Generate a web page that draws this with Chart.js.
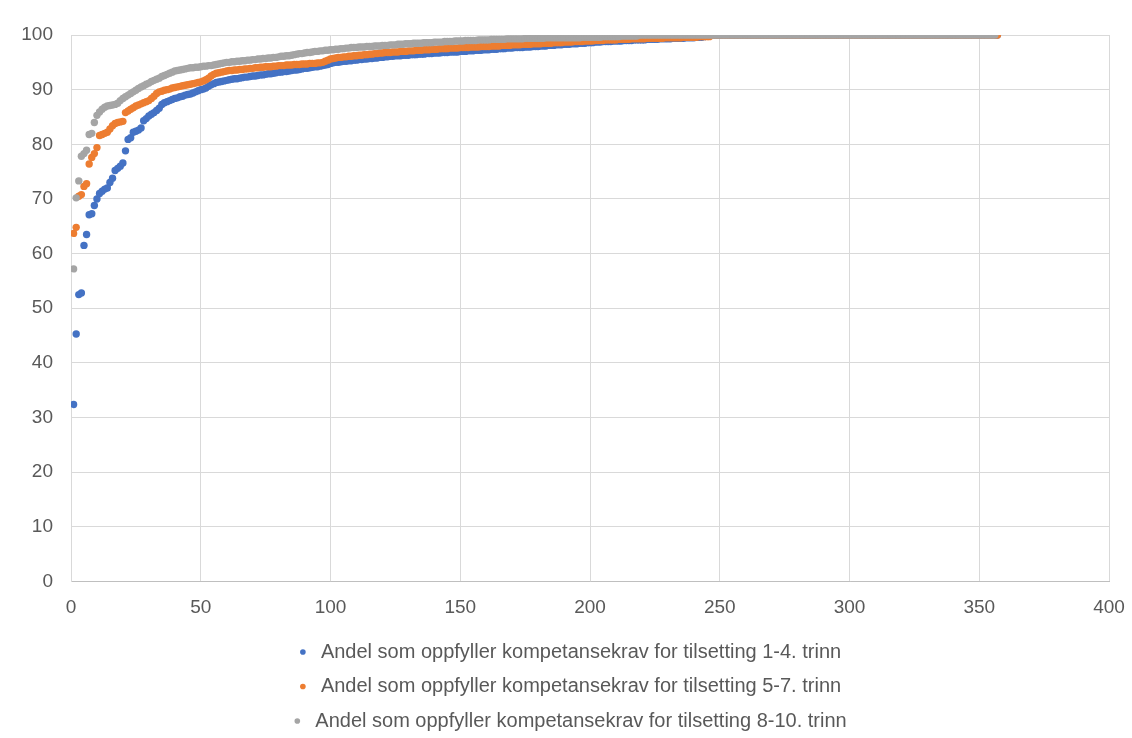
<!DOCTYPE html>
<html>
<head>
<meta charset="utf-8">
<script src="https://cdn.jsdelivr.net/npm/chart.js@4.4.0/dist/chart.umd.min.js"></script>
<style>
  html, body { margin: 0; padding: 0; background: #fff; }
  #wrap { width: 1132px; height: 738px; }
</style>
</head>
<body>
<div id="wrap"><canvas id="myChart" width="1132" height="738"></canvas></div>
<script>
// Andel (%) per skole, sortert stigende – x er rangnummer 1..n
const trinn14 = [
  32.4, 45.3, 52.5, 52.8, 61.5, 63.5, 67.1, 67.3, 68.8, 70.0,
  71.0, 71.4, 71.8, 72.0, 73.0, 73.8, 75.2, 75.6, 76.0, 76.6,
  78.8, 80.9, 81.2, 82.2, 82.4, 82.6, 83.0, 84.3, 84.7, 85.2,
  85.5, 85.8, 86.2, 86.6, 87.3, 87.6, 87.8, 88.0, 88.2, 88.4,
  88.5, 88.7, 88.8, 89.0, 89.1, 89.2, 89.4, 89.6, 89.8, 90.0,
  90.1, 90.3, 90.6, 90.9, 91.1, 91.3, 91.4, 91.5, 91.6, 91.7,
  91.8, 91.9, 92.0, 92.0, 92.1, 92.2, 92.3, 92.3, 92.4, 92.5,
  92.5, 92.6, 92.7, 92.7, 92.8, 92.9, 92.9, 93.0, 93.1, 93.2,
  93.2, 93.3, 93.3, 93.4, 93.5, 93.6, 93.6, 93.7, 93.8, 93.9,
  93.9, 94.0, 94.1, 94.2, 94.2, 94.3, 94.4, 94.5, 94.6, 94.8,
  94.9, 95.0, 95.0, 95.1, 95.2, 95.2, 95.3, 95.3, 95.4, 95.4,
  95.5, 95.5, 95.6, 95.6, 95.7, 95.7, 95.8, 95.8, 95.9, 95.9,
  96.0, 96.0, 96.1, 96.1, 96.2, 96.2, 96.2, 96.3, 96.3, 96.3,
  96.4, 96.4, 96.4, 96.5, 96.5, 96.5, 96.6, 96.6, 96.6, 96.7,
  96.7, 96.7, 96.8, 96.8, 96.8, 96.9, 96.9, 96.9, 96.9, 97.0,
  97.0, 97.0, 97.1, 97.1, 97.1, 97.2, 97.2, 97.2, 97.3, 97.3,
  97.3, 97.4, 97.4, 97.4, 97.5, 97.5, 97.5, 97.6, 97.6, 97.6,
  97.7, 97.7, 97.7, 97.7, 97.8, 97.8, 97.8, 97.9, 97.9, 97.9,
  98.0, 98.0, 98.0, 98.1, 98.1, 98.1, 98.2, 98.2, 98.2, 98.3,
  98.3, 98.3, 98.4, 98.4, 98.4, 98.5, 98.5, 98.5, 98.6, 98.6,
  98.6, 98.7, 98.7, 98.7, 98.8, 98.8, 98.8, 98.8, 98.9, 98.9,
  98.9, 98.9, 99.0, 99.0, 99.0, 99.0, 99.1, 99.1, 99.1, 99.1,
  99.1, 99.2, 99.2, 99.2, 99.2, 99.2, 99.3, 99.3, 99.3, 99.3,
  99.3, 99.4, 99.4, 99.4, 99.4, 99.4, 99.5, 99.5, 99.5, 99.5,
  99.6, 99.6, 99.6, 99.7, 100, 100, 100, 100, 100, 100,
  100, 100, 100, 100, 100, 100, 100, 100, 100, 100,
  100, 100, 100, 100, 100, 100, 100, 100, 100, 100,
  100, 100, 100, 100, 100, 100, 100, 100, 100, 100,
  100, 100, 100, 100, 100, 100, 100, 100, 100, 100,
  100, 100, 100, 100, 100, 100, 100, 100, 100, 100,
  100, 100, 100, 100, 100, 100, 100, 100, 100, 100,
  100, 100, 100, 100, 100, 100, 100, 100, 100, 100,
  100, 100, 100, 100, 100, 100, 100, 100, 100, 100,
  100, 100, 100, 100, 100, 100, 100, 100, 100, 100,
  100, 100, 100, 100, 100, 100, 100, 100, 100, 100,
  100, 100, 100, 100, 100, 100, 100
];

const trinn57 = [
  63.7, 64.8, 70.5, 70.8, 72.3, 72.8, 76.4, 77.6, 78.3, 79.4,
  81.6, 81.8, 82.0, 82.2, 82.8, 83.4, 83.8, 84.0, 84.1, 84.2,
  85.8, 86.1, 86.4, 86.7, 87.0, 87.2, 87.4, 87.6, 87.8, 88.0,
  88.4, 88.8, 89.3, 89.6, 89.7, 89.9, 90.0, 90.1, 90.3, 90.4,
  90.5, 90.6, 90.7, 90.8, 90.9, 91.0, 91.1, 91.2, 91.3, 91.4,
  91.6, 91.8, 92.1, 92.5, 92.8, 93.0, 93.1, 93.2, 93.3, 93.4,
  93.5, 93.5, 93.6, 93.6, 93.7, 93.7, 93.8, 93.8, 93.9, 93.9,
  94.0, 94.0, 94.1, 94.1, 94.2, 94.2, 94.2, 94.3, 94.3, 94.4,
  94.4, 94.4, 94.5, 94.5, 94.5, 94.6, 94.6, 94.6, 94.7, 94.7,
  94.7, 94.8, 94.8, 94.8, 94.9, 94.9, 95.0, 95.2, 95.4, 95.6,
  95.7, 95.8, 95.9, 95.9, 96.0, 96.0, 96.1, 96.1, 96.2, 96.2,
  96.3, 96.3, 96.4, 96.4, 96.5, 96.5, 96.6, 96.6, 96.7, 96.7,
  96.8, 96.8, 96.8, 96.9, 96.9, 96.9, 97.0, 97.0, 97.0, 97.1,
  97.1, 97.1, 97.2, 97.2, 97.2, 97.3, 97.3, 97.3, 97.4, 97.4,
  97.4, 97.5, 97.5, 97.5, 97.5, 97.6, 97.6, 97.6, 97.6, 97.7,
  97.7, 97.7, 97.7, 97.8, 97.8, 97.8, 97.8, 97.9, 97.9, 97.9,
  97.9, 98.0, 98.0, 98.0, 98.0, 98.1, 98.1, 98.1, 98.1, 98.2,
  98.2, 98.2, 98.2, 98.3, 98.3, 98.3, 98.3, 98.4, 98.4, 98.4,
  98.4, 98.5, 98.5, 98.5, 98.5, 98.6, 98.6, 98.6, 98.6, 98.7,
  98.7, 98.7, 98.7, 98.8, 98.8, 98.8, 98.8, 98.9, 98.9, 98.9,
  98.9, 99.0, 99.0, 99.0, 99.0, 99.1, 99.1, 99.1, 99.1, 99.1,
  99.2, 99.2, 99.2, 99.2, 99.2, 99.3, 99.3, 99.3, 99.3, 99.3,
  99.3, 99.4, 99.4, 99.4, 99.4, 99.4, 99.4, 99.4, 99.5, 99.5,
  99.5, 99.5, 99.5, 99.5, 99.5, 99.6, 99.6, 99.6, 99.6, 99.6,
  99.6, 99.7, 99.7, 99.7, 99.7, 99.7, 100, 100, 100, 100,
  100, 100, 100, 100, 100, 100, 100, 100, 100, 100,
  100, 100, 100, 100, 100, 100, 100, 100, 100, 100,
  100, 100, 100, 100, 100, 100, 100, 100, 100, 100,
  100, 100, 100, 100, 100, 100, 100, 100, 100, 100,
  100, 100, 100, 100, 100, 100, 100, 100, 100, 100,
  100, 100, 100, 100, 100, 100, 100, 100, 100, 100,
  100, 100, 100, 100, 100, 100, 100, 100, 100, 100,
  100, 100, 100, 100, 100, 100, 100, 100, 100, 100,
  100, 100, 100, 100, 100, 100, 100, 100, 100, 100,
  100, 100, 100, 100, 100, 100, 100, 100, 100, 100,
  100, 100, 100, 100, 100, 100, 100
];

const trinn810 = [
  57.2, 70.2, 73.3, 77.8, 78.3, 78.9, 81.8, 82.0, 84.0, 85.3,
  85.9, 86.4, 86.8, 87.0, 87.1, 87.2, 87.3, 87.5, 88.0, 88.4,
  88.7, 89.0, 89.3, 89.6, 89.9, 90.2, 90.5, 90.7, 91.0, 91.2,
  91.5, 91.7, 91.9, 92.1, 92.4, 92.6, 92.8, 93.0, 93.2, 93.4,
  93.5, 93.6, 93.7, 93.8, 93.9, 94.0, 94.0, 94.1, 94.1, 94.2,
  94.3, 94.3, 94.4, 94.4, 94.5, 94.6, 94.7, 94.8, 94.9, 95.0,
  95.0, 95.1, 95.1, 95.2, 95.2, 95.3, 95.3, 95.4, 95.4, 95.5,
  95.5, 95.6, 95.6, 95.7, 95.7, 95.8, 95.8, 95.9, 95.9, 96.0,
  96.1, 96.1, 96.2, 96.2, 96.3, 96.4, 96.5, 96.6, 96.6, 96.7,
  96.8, 96.8, 96.9, 97.0, 97.0, 97.1, 97.1, 97.2, 97.2, 97.3,
  97.3, 97.4, 97.4, 97.5, 97.5, 97.6, 97.6, 97.7, 97.7, 97.7,
  97.8, 97.8, 97.8, 97.9, 97.9, 97.9, 98.0, 98.0, 98.0, 98.1,
  98.1, 98.1, 98.2, 98.2, 98.2, 98.3, 98.3, 98.3, 98.4, 98.4,
  98.4, 98.5, 98.5, 98.5, 98.5, 98.6, 98.6, 98.6, 98.6, 98.7,
  98.7, 98.7, 98.7, 98.8, 98.8, 98.8, 98.8, 98.9, 98.9, 98.9,
  98.9, 99.0, 99.0, 99.0, 99.0, 99.0, 99.1, 99.1, 99.1, 99.1,
  99.1, 99.2, 99.2, 99.2, 99.2, 99.2, 99.2, 99.3, 99.3, 99.3,
  99.3, 99.3, 99.3, 99.3, 99.4, 99.4, 99.4, 99.4, 99.4, 99.4,
  99.4, 99.4, 99.5, 99.5, 99.5, 99.5, 99.5, 99.5, 99.5, 99.5,
  99.5, 99.5, 99.5, 99.5, 99.5, 99.5, 99.6, 99.6, 99.6, 99.6,
  99.6, 99.6, 99.6, 99.6, 99.7, 99.7, 99.7, 99.7, 99.7, 99.7,
  99.7, 99.8, 99.8, 99.8, 99.8, 99.8, 99.8, 99.8, 100, 100,
  100, 100, 100, 100, 100, 100, 100, 100, 100, 100,
  100, 100, 100, 100, 100, 100, 100, 100, 100, 100,
  100, 100, 100, 100, 100, 100, 100, 100, 100, 100,
  100, 100, 100, 100, 100, 100, 100, 100, 100, 100,
  100, 100, 100, 100, 100, 100, 100, 100, 100, 100,
  100, 100, 100, 100, 100, 100, 100, 100, 100, 100,
  100, 100, 100, 100, 100, 100, 100, 100, 100, 100,
  100, 100, 100, 100, 100, 100, 100, 100, 100, 100,
  100, 100, 100, 100, 100, 100, 100, 100, 100, 100,
  100, 100, 100, 100, 100, 100, 100, 100, 100, 100,
  100, 100, 100, 100, 100, 100, 100, 100, 100, 100,
  100, 100, 100, 100, 100, 100, 100, 100, 100, 100,
  100, 100, 100, 100, 100, 100, 100, 100, 100, 100,
  100, 100, 100, 100, 100, 100
];

const seriesLabels = [
  'Andel som oppfyller kompetansekrav for tilsetting 1-4. trinn',
  'Andel som oppfyller kompetansekrav for tilsetting 5-7. trinn',
  'Andel som oppfyller kompetansekrav for tilsetting 8-10. trinn'
];
const xTicks = [0, 50, 100, 150, 200, 250, 300, 350, 400];
const yTicks = [0, 10, 20, 30, 40, 50, 60, 70, 80, 90, 100];

const farger = ['#4472C4', '#ED7D31', '#A5A5A5'];
const tekstFarge = '#595959';
const fontFamily = "'Liberation Sans', Arial, sans-serif";

// punktene: x = rangnummer (1, 2, 3 ...), y = andel
function tilPunkter(verdier) {
  return verdier.map((v, i) => ({ x: i + 1, y: v }));
}

const ctx = document.getElementById('myChart').getContext('2d');

const datasets = [trinn14, trinn57, trinn810].map((verdier, i) => ({
  label: seriesLabels[i],
  data: tilPunkter(verdier),
  backgroundColor: farger[i],
  borderColor: farger[i],
  borderWidth: 0,
  pointRadius: 3.7,
  pointHoverRadius: 3.7,
  // Excel tegner siste serie øverst
  order: 3 - i
}));

new Chart(ctx, {
  type: 'scatter',
  data: { datasets: datasets },
  options: {
    responsive: false,
    animation: false,
    layout: {
      padding: { left: 11, right: 7, top: 35, bottom: -3 }
    },
    plugins: {
      tooltip: { enabled: false },
      legend: {
        position: 'bottom',
        labels: {
          usePointStyle: true,
          pointStyle: 'circle',
          boxWidth: 16,
          boxHeight: 4,
          padding: 14.5,
          color: tekstFarge,
          font: { family: fontFamily, size: 20 },
          sort: (a, b) => a.datasetIndex - b.datasetIndex
        }
      }
    },
    scales: {
      x: {
        type: 'linear',
        min: 0,
        max: 400,
        afterBuildTicks: (scale) => { scale.ticks = xTicks.map(v => ({ value: v })); },
        afterFit: (scale) => {
          scale.height = 46;
          scale.paddingRight = 23; // plass til "400" som i Excel
        },
        grid: { color: '#d9d9d9', drawTicks: false },
        border: { color: '#bfbfbf' },
        ticks: {
          padding: 14.5,
          color: tekstFarge,
          font: { family: fontFamily, size: 19 }
        }
      },
      y: {
        type: 'linear',
        min: 0,
        max: 100,
        afterBuildTicks: (scale) => { scale.ticks = yTicks.map(v => ({ value: v })); },
        afterFit: (scale) => { scale.width = 60; },
        grid: { color: '#d9d9d9', drawTicks: false },
        border: { color: '#d9d9d9' },
        ticks: {
          padding: 18,
          color: tekstFarge,
          font: { family: fontFamily, size: 19 }
        }
      }
    }
  }
});
</script>
</body>
</html>
